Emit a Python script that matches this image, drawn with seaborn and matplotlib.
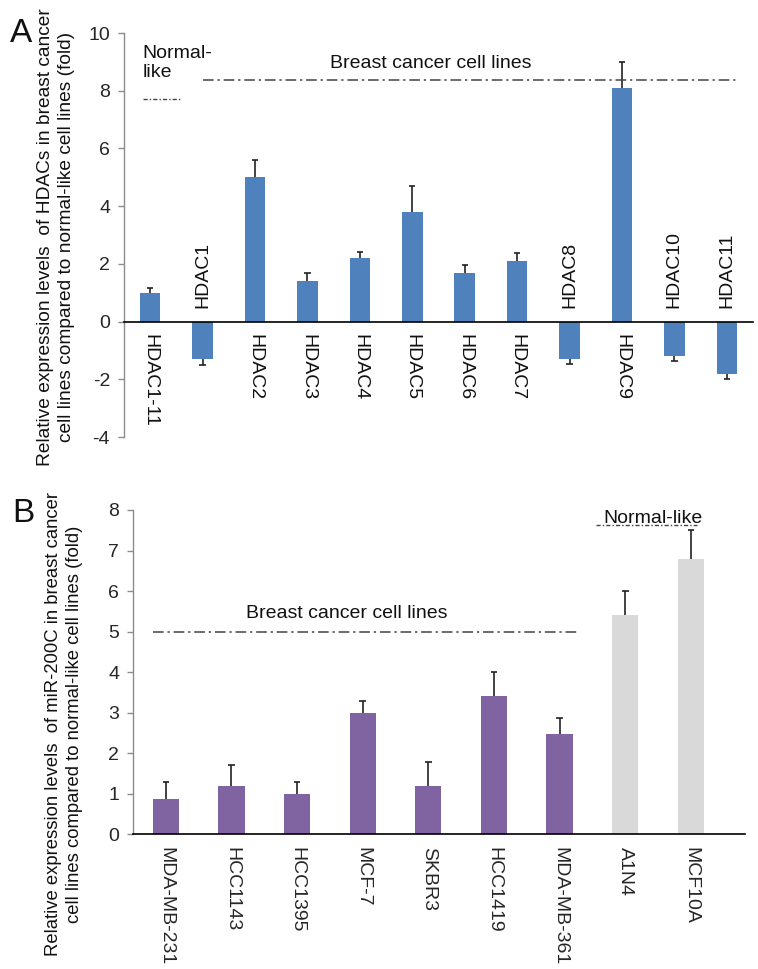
import matplotlib
matplotlib.use("Agg")
import matplotlib.pyplot as plt
import seaborn as sns

# panel A data: HDAC expression (fold vs normal-like)
hdac_names = ["HDAC1-11", "HDAC1", "HDAC2", "HDAC3", "HDAC4", "HDAC5",
              "HDAC6", "HDAC7", "HDAC8", "HDAC9", "HDAC10", "HDAC11"]
hdac_fold = [1.0, -1.3, 5.0, 1.4, 2.2, 3.8, 1.7, 2.1, -1.3, 8.1, -1.2, -1.8]
hdac_err = [0.15, 0.2, 0.6, 0.27, 0.2, 0.9, 0.25, 0.28, 0.18, 0.9, 0.15, 0.2]

# panel B data: miR-200C expression
cell_lines = ["MDA-MB-231", "HCC1143", "HCC1395", "MCF-7", "SKBR3",
              "HCC1419", "MDA-MB-361", "A1N4", "MCF10A"]
mir_fold = [0.88, 1.18, 1.0, 3.0, 1.18, 3.4, 2.48, 5.4, 6.8]
mir_err = [0.4, 0.52, 0.28, 0.3, 0.6, 0.6, 0.4, 0.6, 0.7]
cell_group = ["cancer"] * 7 + ["normal"] * 2

BLUE = "#4F81BD"
PURPLE = "#8064A2"
GREY = "#D9D9D9"
AXGREY = "#8C8C8C"
DASHDOT = (0, (7, 2.5, 1.5, 2.5))

sns.set_style("white")
plt.rcParams["font.family"] = ["Liberation Sans", "DejaVu Sans"]
plt.rcParams["text.color"] = "#111111"
plt.rcParams["axes.unicode_minus"] = False

fig = plt.figure(figsize=(7.58, 9.69), dpi=100)
W, H = 758, 969


def setup_axis(ax):
    for s in ["top", "right"]:
        ax.spines[s].set_visible(False)
    ax.spines["left"].set_color(AXGREY)
    ax.spines["left"].set_linewidth(1.0)
    ax.spines["bottom"].set_color("black")
    ax.spines["bottom"].set_linewidth(1.2)
    ax.tick_params(axis="y", length=4, width=1, color=AXGREY,
                   labelsize=14, pad=6, left=True)


def one_sided_err(ax, vals, errs, cap=0.055):
    # error bar only on the outer side of each bar, like the original
    for i, (v, e) in enumerate(zip(vals, errs)):
        end = v + e if v >= 0 else v - e
        ax.vlines(i, v, end, color="#222222", lw=1.2)
        ax.hlines(end, i - cap, i + cap, color="#222222", lw=1.2)


# ---------------- panel A ----------------
axA = fig.add_axes([124 / W, 1 - 437 / H, 629 / W, 404 / H])
sns.barplot(x=hdac_names, y=hdac_fold, color=BLUE, width=0.39,
            linewidth=0, saturation=1, ax=axA)
one_sided_err(axA, hdac_fold, hdac_err, cap=0.06)
setup_axis(axA)
axA.spines["bottom"].set_position(("data", 0))
axA.set_ylim(-4, 10)
axA.set_xlim(-0.5, 11.5)
axA.set_yticks(range(-4, 11, 2))
axA.set_xticks([])
axA.set_xlabel("")
for i, (name, v) in enumerate(zip(hdac_names, hdac_fold)):
    if v >= 0:
        axA.annotate(name, (i, 0), xytext=(0, -9), textcoords="offset points",
                     rotation=270, ha="center", va="top", fontsize=14)
    else:
        axA.annotate(name, (i, 0), xytext=(0, 10), textcoords="offset points",
                     rotation=90, ha="center", va="bottom", fontsize=14)

axA.text(-0.14, 9.6, "Normal-\nlike", ha="left", va="top", fontsize=14)
axA.plot([-0.14, 0.57], [7.72, 7.72], color="#444444", lw=1,
         linestyle=(0, (3, 1.5, 1, 1.5)))
axA.plot([1.0, 11.19], [8.37, 8.37], color="#444444", lw=1.1, linestyle=DASHDOT)
axA.text(5.36, 8.8, "Breast cancer cell lines", ha="center", va="baseline",
         fontsize=14)

fig.text(10 / W, 1 - 42 / H, "A", fontsize=24, ha="left", va="baseline")
fig.text(56 / W, 1 - 237 / H,
         "Relative expression levels  of HDACs in breast cancer\n"
         "cell lines compared to normal-like cell lines (fold)",
         rotation=90, ha="center", va="center", multialignment="center",
         fontsize=13.8, linespacing=1.3)

# ---------------- panel B ----------------
axB = fig.add_axes([133 / W, 1 - 834.3 / H, 611.7 / W, 324.3 / H])
sns.barplot(x=cell_lines, y=mir_fold, hue=cell_group,
            palette={"cancer": PURPLE, "normal": GREY}, width=0.4,
            linewidth=0, saturation=1, legend=False, dodge=False, ax=axB)
one_sided_err(axB, mir_fold, mir_err, cap=0.05)
setup_axis(axB)
axB.set_ylim(0, 8)
axB.set_xlim(-0.5, 8.82)
axB.set_yticks(range(0, 9))
axB.set_xticks(range(len(cell_lines)))
axB.set_xticklabels(cell_lines, rotation=270, ha="center", va="top",
                    fontsize=14)
axB.tick_params(axis="x", length=0, pad=9)
axB.set_xlabel("")

axB.plot([-0.2, 6.28], [5.0, 5.0], color="#444444", lw=1.1, linestyle=DASHDOT)
axB.text(2.75, 5.34, "Breast cancer cell lines", ha="center", va="baseline",
         fontsize=14)
axB.plot([6.55, 8.1], [7.62, 7.62], color="#444444", lw=1,
         linestyle=(0, (3, 1.5, 1, 1.5)))
axB.text(7.42, 7.68, "Normal-like", ha="center", va="baseline", fontsize=14)

fig.text(12 / W, 1 - 522 / H, "B", fontsize=24, ha="left", va="baseline")
fig.text(64 / W, 1 - 724 / H,
         "Relative expression levels  of miR-200C in breast cancer\n"
         "cell lines compared to normal-like cell lines (fold)",
         rotation=90, ha="center", va="center", multialignment="center",
         fontsize=13.3, linespacing=1.3)

fig.savefig("out.png", dpi=100)
